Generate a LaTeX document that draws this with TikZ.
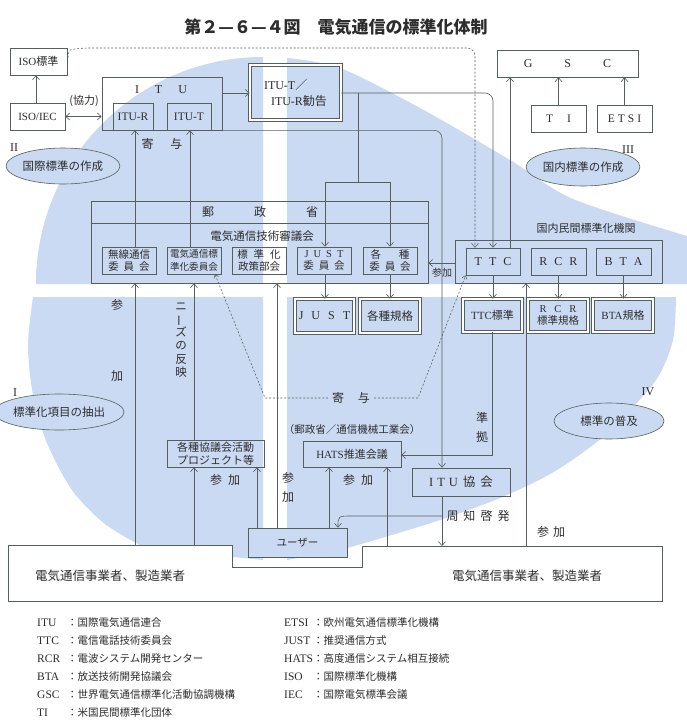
\documentclass[tikz,border=0pt]{standalone}
\usepackage{fontspec}
\usepackage{graphicx}
\setmainfont{Noto Sans CJK JP}
\newfontfamily\lat{Liberation Serif}
\usetikzlibrary{arrows.meta,shapes.geometric}
\definecolor{bgb}{RGB}{203,218,243}
\definecolor{lnc}{RGB}{85,95,93}
\definecolor{txc}{RGB}{45,45,45}
\newcommand\fs[1]{\fontsize{#1}{#1}\selectfont}
\newcommand\bx[7][]{\node[box,minimum width={#5-#3},minimum height={#6-#4},#1] (#2) at ({(#3+#5)/2},{(#4+#6)/2}) {#7};}
\tikzset{
 box/.style={draw=lnc, line width=0.6pt, inner sep=0pt, align=center, text=txc, font=\fs{11}},
 dbl/.style={double=white, double distance=1.8pt, line width=0.7pt},
 lab/.style={inner sep=0pt, text=txc, font=\fs{11}},
 con/.style={draw=lnc, line width=0.6pt},
 arr/.style={con, -{Straight Barb[length=4pt,width=7pt]}},
 barr/.style={con, {Straight Barb[length=4pt,width=7pt]}-{Straight Barb[length=4pt,width=7pt]}},
 dsh/.style={draw=lnc, line width=0.55pt, dash pattern=on 2pt off 1.8pt},
 ell/.style={ellipse, draw=lnc, line width=0.6pt, fill=bgb, inner sep=0pt, text=txc, font=\fs{11.5}},
 sub/.style={font=\fontsize{10.5}{12.5}\selectfont},
}
\begin{document}
\begin{tikzpicture}[x=1pt,y=-1pt]
\useasboundingbox (0,0) rectangle (687,726);
\fill[white] (0,0) rectangle (687,726);
% background quadrants
\fill[bgb] (263,284) -- (36,284) arc[start angle=180,end angle=270,radius=227] -- cycle;
\fill[bgb] (287,284) -- (287,58) -- plot[smooth] coordinates {(287,58) (340,68) (420,108) (510,160) (573,199) (687,236)} -- (687,284) -- cycle;
\fill[bgb] (263,297) -- (33,297) -- plot[smooth] coordinates {(33,297) (28,345) (33,395) (47,443) (72,490) (105,524) (145,548)} -- (263,560) -- cycle;
\fill[bgb] (287,297) -- (676,297) -- plot[smooth] coordinates {(676,297) (673,340) (658,377) (632,408) (598,441) (552,473) (500,498) (440,520) (375,540) (340,550)} -- (287,560) -- cycle;

% guides
\foreach \g in {36,135,190,194,215,257,277,325,329,338,352,358,387,390,442,475,493,510,526}
  \coordinate (g\g) at (\g,0);
\foreach \h in {48,93,182,223,263,398,455,516}
  \coordinate (y\h) at (0,\h);

% title
\node[lab, font=\fs{17}\bfseries] (title) at (336,27) {第２—６—４図　電気通信の標準化体制};

% boxes
\bx{isostd}{10}{48}{67}{75}{{\lat ISO}標準}
\bx{isoiec}{10}{103}{65}{130}{{\lat ISO/IEC}}
\bx{itu}{102}{77}{222}{130}{}
\node[lab,font=\lat\fs{12}] (itulab) at (161,90) {I\hspace{16pt}T\hspace{16pt}U};
\bx[font=\lat\fs{11.5}]{ituR}{113}{103}{153}{130}{ITU-R}
\bx[font=\lat\fs{11.5}]{ituT}{167}{103}{211}{130}{ITU-T}
\bx[dbl,align=left,font=\fontsize{12}{16}\selectfont]{kankoku}{250}{65}{341}{120}{{\lat ITU-T}／\\\hspace*{7pt}{\lat ITU-R}勧告}
\bx[font=\lat\fs{12}]{gsc}{497}{50}{638}{77}{G\hspace{32pt}S\hspace{32pt}C}
\bx[font=\lat\fs{11.5}]{ti}{531}{105}{586}{132}{T\hspace{14pt}I}
\bx[font=\lat\fs{11.5}]{etsi}{597}{105}{652}{132}{E\hspace{3pt}T\hspace{3pt}S\hspace{3pt}I}

\bx{yusei}{91}{201}{428}{283}{}
\draw[con] (yusei.west |- y223) -- (yusei.east |- y223);
\node[lab,font=\fs{12}] (yuseilab) at (260,212) {郵\hspace{40pt}政\hspace{40pt}省};
\node[lab,font=\fs{11.5}] (shingi) at (262,236) {電気通信技術審議会};
\bx[sub]{musen}{102}{247}{156}{274}{無線通信\\委\hspace{5pt}員\hspace{5pt}会}
\bx[font=\fontsize{9.6}{12.5}\selectfont]{denki}{167}{247}{221}{274}{電気通信標\\準化委員会}
\bx[sub]{seisaku}{232}{247}{286}{274}{標\hspace{6pt}準\hspace{6pt}化\\政策部会}
\bx[sub]{justc}{297}{247}{351}{274}{{\lat J\hspace{5pt}U\hspace{5pt}S\hspace{5pt}T}\\委\hspace{5pt}員\hspace{5pt}会}
\bx[sub]{kakuc}{363}{247}{417}{274}{各\hspace{18pt}種\\委\hspace{5pt}員\hspace{5pt}会}
\bx[dbl,font=\lat\fs{12}]{just}{295}{299}{354}{333}{J\hspace{8pt}U\hspace{8pt}S\hspace{8pt}T}
\bx[dbl,font=\fs{11.5}]{kakus}{360}{299}{420}{333}{各種規格}

\bx{kokunai}{455}{240}{662}{283}{}
\node[lab] (kokunailab) at (586,228) {国内民間標準化機関};
\bx[font=\lat\fs{12}]{ttc}{466}{248}{520}{275}{T\hspace{7pt}T\hspace{7pt}C}
\bx[font=\lat\fs{12}]{rcr}{531}{248}{586}{275}{R\hspace{7pt}C\hspace{7pt}R}
\bx[font=\lat\fs{12}]{bta}{596}{248}{651}{275}{B\hspace{7pt}T\hspace{7pt}A}
\bx[dbl,font=\fs{11}]{ttcs}{463}{299}{522}{332}{{\lat TTC}標準}
\bx[dbl,font=\fontsize{10.5}{12}\selectfont]{rcrs}{528}{299}{588}{332}{{\lat R\hspace{8pt}C\hspace{8pt}R}\\標準規格}
\bx[dbl,font=\fs{11}]{btas}{593}{299}{653}{332}{{\lat BTA}規格}

\bx[font=\fontsize{11}{13}\selectfont]{kyogi}{167}{440}{264}{467}{各種協議会活動\\プロジェクト等}
\node[lab,font=\fs{10.5}] (hatsorg) at (352,430) {（郵政省／通信機械工業会）};
\bx[font=\fs{11}]{hats}{303}{441}{401}{467}{{\lat HATS}推進会議}
\bx[font=\fs{12.5}]{itukai}{412}{468}{510}{496}{{\lat I\hspace{4pt}T\hspace{4pt}U}\hspace{5pt}協\hspace{5pt}会}

% operators polygon
\draw[con, fill=white] (8,545) -- (232,545) -- (232,567) -- (362,567) -- (362,546) -- (662,546) -- (662,601) -- (8,601) -- cycle;
\coordinate (opL) at (8,545);
\coordinate (opR) at (662,546);
\node[lab,font=\fs{12.5}] (opT1) at (110,576) {電気通信事業者、製造業者};
\node[lab,font=\fs{12.5}] (opT2) at (527,576) {電気通信事業者、製造業者};
\bx[fill=bgb,font=\fs{10.5}]{user}{248}{528}{347}{557}{ユーザー}

% ellipses
\node[ell, minimum width=108, minimum height=36] (e2) at (63,166) {国際標準の作成};
\node[ell, minimum width=110, minimum height=38] (e3) at (583,167) {国内標準の作成};
\node[ell, minimum width=110, minimum height=36] (e1) at (59,412) {標準化項目の抽出};
\node[ell, minimum width=110, minimum height=36] (e4) at (609,421) {標準の普及};
\node[lab,font=\lat\fs{12}] (r2) at (14,148) {II};
\node[lab,font=\lat\fs{12}] (r3) at (628,150) {III};
\node[lab,font=\lat\fs{12}] (r1) at (15,393) {I};
\node[lab,font=\lat\fs{12}] (r4) at (648,392) {IV};

% connectors
\draw[arr] (g36 |- isoiec.north) -- (g36 |- isostd.south);
\draw[barr] (isoiec.east) -- (isoiec.east -| itu.west);
\node[lab,font=\fs{11}] (kyoryoku) at (84,101) {(協力)};
\draw[arr] (itu.east |- y93) -- (kankoku.west |- y93);
\draw[arr, rounded corners=8] (kankoku.east |- y93) -- (g493 |- y93) -- (g493 |- ttc.north);
\draw[con] (g358 |- y93) -- (g358 |- y182);
\draw[arr] (g358 |- y182) -- (g325 |- y182) -- (g325 |- justc.north);
\draw[arr] (g358 |- y182) -- (g390 |- y182) -- (g390 |- kakuc.north);
\draw[arr] (g325 |- justc.south) -- (g325 |- just.north);
\draw[arr] (g390 |- kakuc.south) -- (g390 |- kakus.north);
\draw[arr, rounded corners=8] (itu.south east) -- (g442 |- itu.south) -- (g442 |- itukai.north);
\draw[arr] (kokunai.west |- y263) -- (yusei.east |- y263);
\node[lab,font=\fs{10}] (sanka5) at (442,273) {参加};
\draw[arr] (g510 |- ttc.north) -- (g510 |- gsc.south);
\draw[arr] (ti.north) -- (ti.north |- gsc.south);
\draw[arr] (etsi.north) -- (etsi.north |- gsc.south);
\draw[dsh, -{Straight Barb[length=4pt,width=7pt]}, rounded corners=8] (isostd.east) .. controls (69,50) .. (80,48) -- (g475 |- y48) -- (g475 |- ttc.north);

\draw[arr] (g135 |- musen.north) -- (g135 |- ituR.south);
\draw[arr] (g190 |- denki.north) -- (g190 |- ituT.south);
\node[lab,font=\fs{12}] (kiyo1) at (162,144) {寄\hspace{17pt}与};

\draw[arr] (g135 |- opL) -- (g135 |- yusei.south);
\node[lab,font=\fs{12}] (sanA) at (117,305) {参};
\node[lab,font=\fs{12}] (sanB) at (117,376) {加};
\draw[arr] (g194 |- kyogi.north) -- (g194 |- yusei.south);
\node[lab,font=\fontsize{11.5}{13.3}\selectfont,align=center] (needs) at (181,340) {ニ\\\rotatebox[origin=c]{90}{ー}\\ズ\\の\\反\\映};
\draw[arr] (g194 |- opL) -- (g194 |- kyogi.south);
\draw[arr] (g257 |- user.north) -- (g257 |- kyogi.south);
\node[lab,font=\fs{12}] (sanC) at (225,480) {参\hspace{6pt}加};
\draw[arr] (g277 |- user.north) -- (g277 |- yusei.south);
\node[lab,font=\fs{12}] (sanD1) at (288,478) {参};
\node[lab,font=\fs{12}] (sanD2) at (288,497) {加};
\draw[arr] (g329 |- user.north) -- (g329 |- hats.south);
\draw[arr] (g387 |- opR) -- (g387 |- hats.south);
\node[lab,font=\fs{12}] (sanE) at (358,480) {参\hspace{6pt}加};

\draw[arr] (ttc.south) -- (ttc.south |- ttcs.north);
\draw[arr] (rcr.south) -- (rcr.south |- rcrs.north);
\draw[arr] (bta.south) -- (bta.south |- btas.north);
\draw[arr] (ttcs.south) -- (ttcs.south |- y455) -- (hats.east |- y455);
\node[lab,font=\fs{12}] (junA) at (482,418) {準};
\node[lab,font=\fs{12}] (junB) at (482,437) {拠};

\draw[arr] (g442 |- itukai.south) -- (g442 |- opR);
\coordinate (br) at (g442 |- y516);
\draw[arr] (br) -- (g352 |- y516) .. controls (g338 |- y516) .. (g338 |- user.north);
\node[lab,font=\fs{12}] (shuchi) at (478,516) {周\hspace{5pt}知\hspace{5pt}啓\hspace{5pt}発};
\draw[arr] (g526 |- opR) -- (g526 |- kokunai.south);
\node[lab,font=\fs{12}] (sanF) at (551,532) {参\hspace{4pt}加};

% dashed contribution
\node[lab,font=\fs{12}] (kiyo2) at (351,398) {寄\hspace{14pt}与};
\draw[dsh, {Straight Barb[length=3pt,width=5pt]}-] (g215 |- denki.south) -- (265,398) -- ([xshift=-4pt]kiyo2.west);
\draw[dsh, -{Straight Barb[length=3pt,width=5pt]}] ([xshift=4pt]kiyo2.east) -- (418,398) -- (ttc.south west);

% legend
\foreach \ab/\tx [count=\i] in {ITU/国際電気通信連合, TTC/電信電話技術委員会, RCR/電波システム開発センター, BTA/放送技術開発協議会, GSC/世界電気通信標準化活動協調機構, TI/米国民間標準化団体} {
  \node[lab,font=\lat\fs{11.5},anchor=base west] (la\i) at (37,{608+18*\i}) {\ab};
  \node[lab,font=\fs{10.5},anchor=base west] (lt\i) at (67,{608+18*\i}) {：\tx};
}
\foreach \ab/\tx [count=\i] in {ETSI/欧州電気通信標準化機構, JUST/推奨通信方式, HATS/高度通信システム相互接続, ISO/国際標準化機構, IEC/国際電気標準会議} {
  \node[lab,font=\lat\fs{11.5},anchor=base west] (lb\i) at (284,{608+18*\i}) {\ab};
  \node[lab,font=\fs{10.5},anchor=base west] (lu\i) at (313,{608+18*\i}) {：\tx};
}
\end{tikzpicture}
\end{document}
